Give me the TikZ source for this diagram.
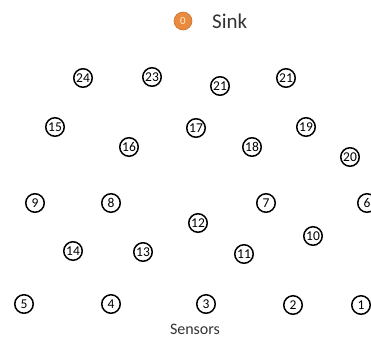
\documentclass[tikz,border=0pt]{standalone}
\usepackage{fontspec}
\setmainfont{Carlito}
\definecolor{sinkorange}{HTML}{EA8A3C}
\definecolor{txtgray}{HTML}{333333}
\tikzset{
  sensor/.style={circle,draw=black,line width=1.5pt,minimum size=18.5pt,inner sep=0pt,font=\fontsize{13.5}{13.5}\selectfont,text=black},
  sinknode/.style={circle,fill=sinkorange,draw=sinkorange!85!black,line width=0.6pt,minimum size=18pt,inner sep=0pt,font=\fontsize{11}{11}\selectfont,text=white!85!orange},
  lbl/.style={text=txtgray,inner sep=0pt}
}
\begin{document}
\begin{tikzpicture}[x=1pt,y=-1pt]
\useasboundingbox (0,0) rectangle (371,338);
\node[sinknode] (s0) at (183,21) {0};
\node[lbl,anchor=west,font=\fontsize{21}{21}\selectfont] (sinklbl) at (212,21) {Sink};
\node[sensor] (n24) at (83,78) {24};
\node[sensor] (n23) at (152,77) {23};
\node[sensor] (n21a) at (220,86) {21};
\node[sensor] (n21b) at (286,78) {21};
\node[sensor] (n15) at (55,127) {15};
\node[sensor] (n16) at (129,147) {16};
\node[sensor] (n17) at (196,128) {17};
\node[sensor] (n18) at (252,147) {18};
\node[sensor] (n19) at (306,127) {19};
\node[sensor] (n20) at (350,157) {20};
\node[sensor] (n9) at (35,203) {9};
\node[sensor] (n8) at (111,203) {8};
\node[sensor] (n7) at (266,203) {7};
\node[sensor] (n6) at (367,203) {6};
\node[sensor] (n12) at (198,223) {12};
\node[sensor] (n10) at (313,236) {10};
\node[sensor] (n14) at (73,251) {14};
\node[sensor] (n13) at (143,252) {13};
\node[sensor] (n11) at (244,254) {11};
\node[sensor] (n5) at (24,304) {5};
\node[sensor] (n4) at (111,304) {4};
\node[sensor] (n3) at (206,304) {3};
\node[sensor] (n2) at (293,305) {2};
\node[sensor] (n1) at (361,305) {1};
\node[lbl,font=\fontsize{16}{16}\selectfont] (senslbl) at (195,329) {Sensors};
\end{tikzpicture}
\end{document}
